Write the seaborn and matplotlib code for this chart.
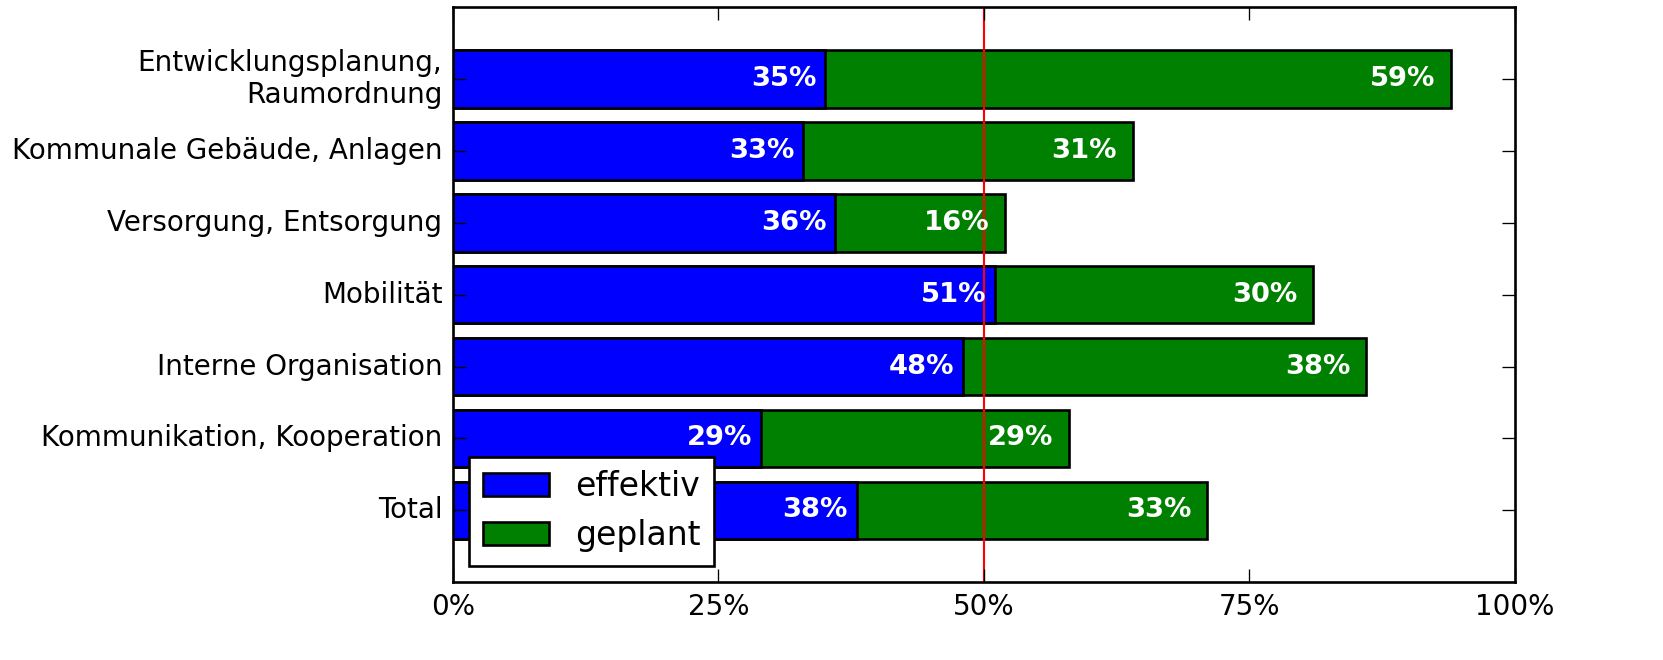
import matplotlib
matplotlib.use("Agg")
import matplotlib.pyplot as plt
import seaborn as sns
import pandas as pd
from matplotlib.ticker import FuncFormatter

categories = [
    "Entwicklungsplanung,\nRaumordnung",
    "Kommunale Gebäude, Anlagen",
    "Versorgung, Entsorgung",
    "Mobilität",
    "Interne Organisation",
    "Kommunikation, Kooperation",
    "Total",
]
effektiv = [35, 33, 36, 51, 48, 29, 38]
geplant = [59, 31, 16, 30, 38, 29, 33]
xticks = [0, 25, 50, 75, 100]

plt.style.use("classic")
plt.rcParams["figure.facecolor"] = "white"
plt.rcParams["savefig.facecolor"] = "white"
plt.rcParams["font.family"] = ["DejaVu Sans"]

df = pd.DataFrame({
    "cat": categories,
    "effektiv": effektiv,
    "geplant": geplant,
})
df["total"] = df["effektiv"] + df["geplant"]

DPI = 190
fig = plt.figure(figsize=(1663 / DPI, 660 / DPI), dpi=DPI)
ax = fig.add_axes([0.2724, 0.118, 0.911 - 0.2724, 0.989 - 0.118])

sns.barplot(data=df, x="total", y="cat", orient="h", color="green",
            saturation=1, edgecolor="black", linewidth=1, width=0.8,
            ax=ax, label="geplant")
sns.barplot(data=df, x="effektiv", y="cat", orient="h", color="blue",
            saturation=1, edgecolor="black", linewidth=1, width=0.8,
            ax=ax, label="effektiv")

for i, (e, t) in enumerate(zip(df["effektiv"], df["total"])):
    ax.text(e - 0.8, i, f"{e}%", ha="right", va="center", color="white",
            fontweight="bold", fontsize=10.4)
    ax.text(t - 1.5, i, f"{t - e}%", ha="right", va="center", color="white",
            fontweight="bold", fontsize=10.4)

ax.axvline(50, color="red", linewidth=0.8, zorder=1.5)

ax.set_xlim(0, 100)
ax.set_ylim(7, -1)
ax.set_xticks(xticks)
ax.xaxis.set_major_formatter(FuncFormatter(lambda v, p: f"{v:.0f}%"))
ax.set_xlabel("")
ax.set_ylabel("")
ax.tick_params(axis="both", which="major", direction="in", top=True,
               right=True, labelsize=10.5, length=5)
ax.tick_params(axis="both", which="minor", length=0)

handles, labels = ax.get_legend_handles_labels()
order = [labels.index("effektiv"), labels.index("geplant")]
ax.legend([handles[k] for k in order], [labels[k] for k in order],
          loc="lower left", fancybox=False, fontsize=12.5)

fig.savefig("out.png", dpi=DPI)
